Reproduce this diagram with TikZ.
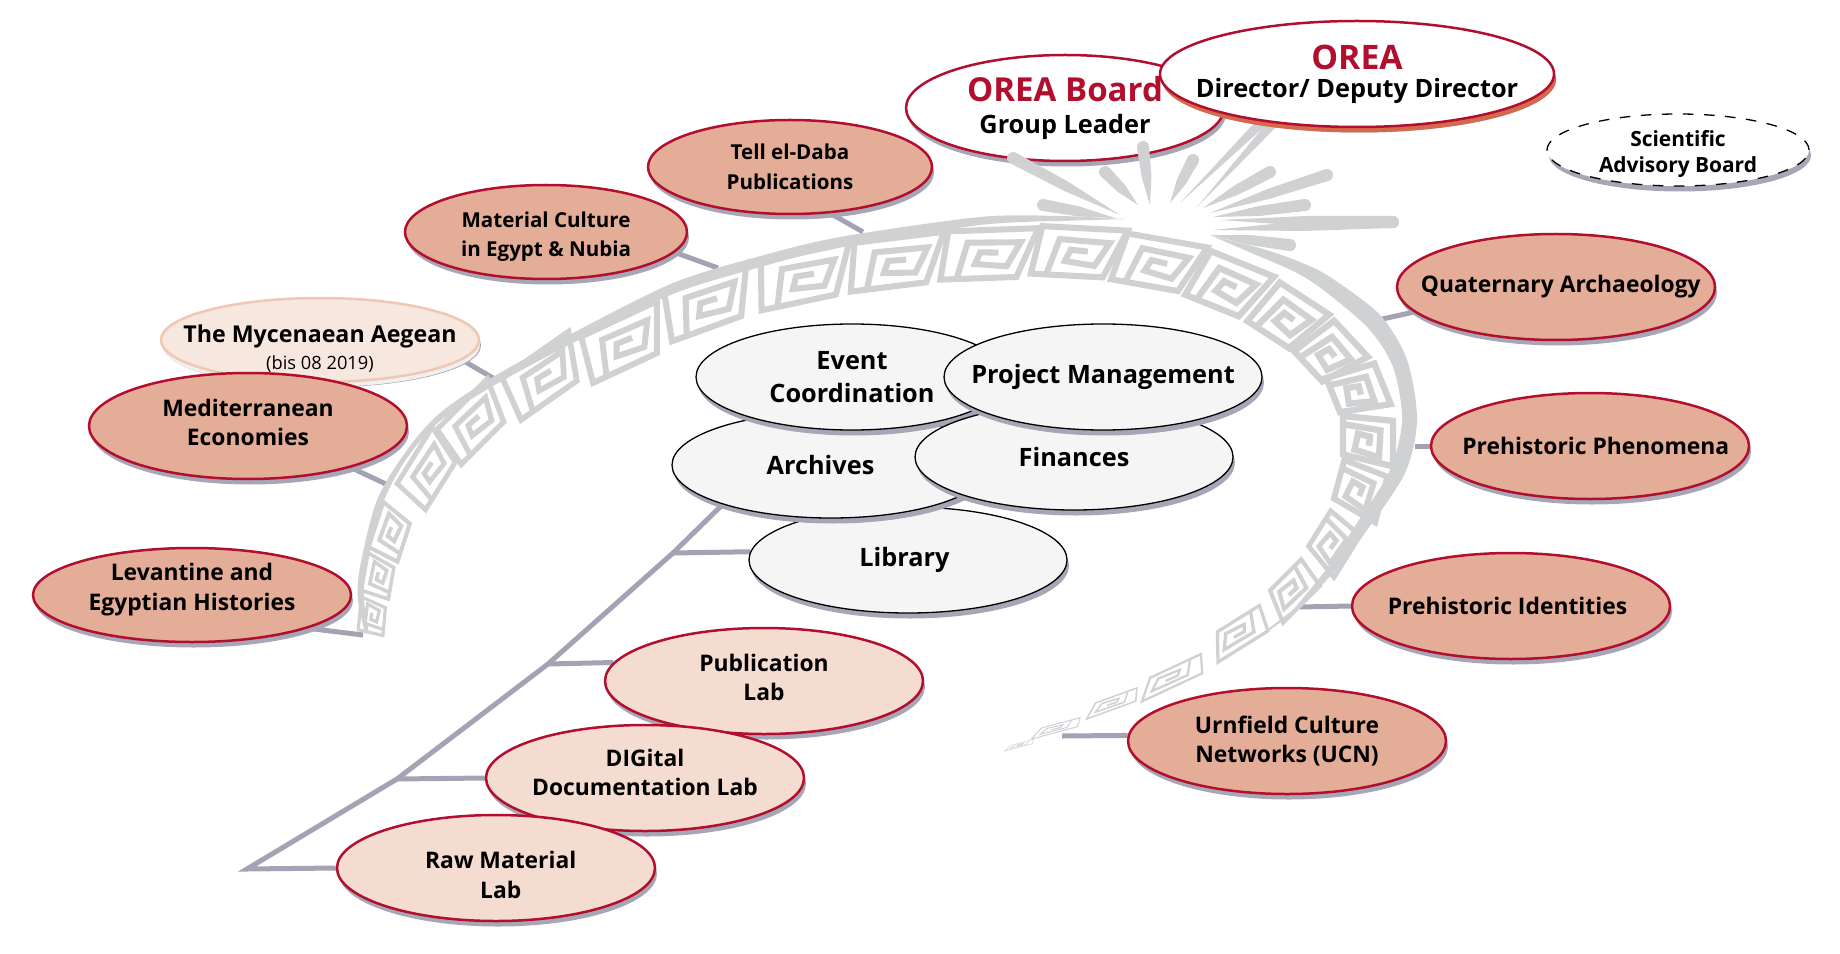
\documentclass[tikz,border=0pt]{standalone}
\usepackage{fontspec}
\setmainfont{Open Sans}
\usetikzlibrary{shapes.geometric,shadows,calc,backgrounds}

\definecolor{oreared}{HTML}{B20F2F}
\definecolor{terra}{HTML}{E3AD97}
\definecolor{pale}{HTML}{F5DCD0}
\definecolor{fadefill}{HTML}{F6E7DF}
\definecolor{fadeline}{HTML}{EFC8B4}
\definecolor{shade}{HTML}{A6A6B6}
\definecolor{redshade}{HTML}{D4694E}
\definecolor{keygray}{HTML}{D0D1D3}
\definecolor{linkgray}{HTML}{A3A3B3}
\definecolor{lightgray}{HTML}{F5F5F5}

\tikzset{
  oval/.style={ellipse,inner sep=-2cm,align=center,minimum width=3.18cm,minimum height=1.06cm,
    drop shadow={shadow xshift=0.02cm,shadow yshift=-0.055cm,fill=shade,opacity=1}},
  midtext/.style={font=\fontsize{6.5}{8.4}\selectfont\bfseries},
  smalltext/.style={font=\fontsize{5.85}{8.4}\selectfont\bfseries},
  bigtext/.style={font=\fontsize{7.2}{9.2}\selectfont\bfseries},
  groupnode/.style={oval,midtext,draw=oreared,line width=0.025cm,fill=terra},
  labnode/.style={oval,midtext,draw=oreared,line width=0.025cm,fill=pale},
  unitnode/.style={oval,bigtext,draw=black,line width=0.013cm,fill=lightgray},
  headnode/.style={oval,bigtext,draw=oreared,line width=0.025cm,fill=white},
  linkline/.style={linkgray,line width=0.05cm},
}
% deeper last line, to move the text up in its oval
\newcommand{\liftup}[1]{\rule[-#1]{0pt}{#1}}

\begin{document}
\begin{tikzpicture}[x=1cm,y=-1cm]
  \useasboundingbox (0,0) rectangle (18.4,9.53);

  % Research groups, left side
  \node[oval,midtext,draw=fadeline,line width=0.025cm,fill=fadefill,minimum height=0.84cm,
    drop shadow={shadow xshift=0.01cm,shadow yshift=-0.05cm,fill=black!6,opacity=1}]
    (mycenaean) at (3.20,3.40) {\rule{0pt}{10pt}\fontsize{6.6}{7.6}\selectfont The Mycenaean Aegean\\[-0.8pt]
    {\fontsize{5.2}{6}\selectfont\mdseries (bis 08 2019)}};
  \node[groupnode] (mediterranean) at (2.48,4.26) {Mediterranean\\Economies\liftup{2pt}};
  \node[groupnode,minimum height=0.94cm] (levantine) at (1.92,5.95) {Levantine and\\Egyptian Histories\liftup{4.8pt}};
  \node[groupnode,smalltext,minimum width=2.82cm,minimum height=0.94cm] (material) at (5.46,2.32) {\rule{0pt}{7pt}Material Culture\\in Egypt \& Nubia};
  \node[groupnode,smalltext,minimum width=2.84cm,minimum height=0.94cm] (tell) at (7.90,1.67) {Tell el-Daba\\Publications};

  % Research groups, right side
  \node[groupnode] (quaternary) at (15.56,2.87) {\hspace*{2.7pt}Quaternary Archaeology};
  \node[groupnode] (phenomena) at (15.90,4.46) {\hspace*{3.3pt}Prehistoric Phenomena};
  \node[groupnode] (identities) at (15.11,6.06) {Prehistoric Identities\hspace*{2pt}};
  \node[groupnode] (urnfield) at (12.87,7.41) {Urnfield Culture\\Networks (UCN)};

  % Central units
  \node[unitnode] (library) at (9.08,5.60) {Library\hspace*{2pt}};
  \node[unitnode] (archives) at (8.31,4.65) {Archives\hspace*{6pt}};
  \node[unitnode,minimum width=3.12cm] (event) at (8.52,3.77) {Event\\Coordination};
  \node[unitnode] (finances) at (10.74,4.57) {Finances};
  \node[unitnode] (project) at (11.03,3.77) {Project Management};

  % Labs
  \node[labnode] (publication) at (7.64,6.81) {Publication\\Lab\liftup{2pt}};
  \node[labnode] (digital) at (6.45,7.78) {DIGital\\Documentation Lab\liftup{3.3pt}};
  \node[labnode] (rawmat) at (4.96,8.68) {\rule{0pt}{8.8pt}\hspace*{2.7pt}Raw Material\\\hspace*{2.7pt}Lab};

  \node[headnode] (board) at (10.65,1.08) {{\fontsize{9.4}{10.5}\selectfont\color{oreared}OREA Board}\\Group Leader};

  % Burst above the band
  \foreach \tx/\ty/\bx/\by in {10.13/1.58/11.20/2.15, 10.43/2.05/11.15/2.18, 11.05/1.72/11.38/2.05,
      11.43/1.47/11.50/2.05, 11.93/1.60/11.70/2.03, 12.70/1.72/12.03/2.08, 13.27/1.75/12.10/2.13,
      13.05/2.05/12.13/2.17, 13.93/2.22/12.13/2.30, 13.93/2.22/12.20/2.20, 12.90/2.45/12.10/2.35}{
    \coordinate (spiketip) at (\tx,\ty);
    \coordinate (spikebase) at (\bx,\by);
    \fill[keygray] (spikebase) -- ($(spikebase)!0.5!(spiketip)!0.05cm!90:(spiketip)$)
      -- ($(spiketip)!0.06cm!-90:(spikebase)$) -- ($(spiketip)!0.06cm!90:(spikebase)$)
      -- ($(spikebase)!0.5!(spiketip)!0.05cm!-90:(spiketip)$) -- cycle;
    \fill[keygray] (spiketip) circle (0.06cm);
  }
  \foreach \tx/\ty/\bx/\by in {12.62/1.22/11.80/2.03, 12.74/1.22/11.97/2.07}{
    \coordinate (spiketip) at (\tx,\ty);
    \coordinate (spikebase) at (\bx,\by);
    \fill[keygray] (spikebase) -- ($(spiketip)!0.05cm!90:(spikebase)$) -- ($(spiketip)!0.05cm!-90:(spikebase)$) -- cycle;
  }

  \node[headnode,minimum width=3.94cm,
    drop shadow={shadow xshift=0.02cm,shadow yshift=-0.055cm,fill=redshade,opacity=1}]
    (orea) at (13.57,0.74) {{\fontsize{9.6}{11.5}\selectfont\color{oreared}OREA}\\[-1.2pt]Director/ Deputy Director};
  \node[oval,midtext,draw=black,dashed,line width=0.013cm,fill=white,minimum width=2.62cm,minimum height=0.72cm,
    font=\fontsize{5.95}{7.6}\selectfont\bfseries] (advisory) at (16.78,1.50) {\rule{0pt}{6.9pt}Scientific\\Advisory Board};

  % Free ends of the connectors
  \coordinate (tellend) at (8.63,2.32);
  \coordinate (materialend) at (7.18,2.68);
  \coordinate (mycenaeanend) at (4.93,3.78);
  \coordinate (mediterraneanend) at (3.88,4.85);
  \coordinate (levantineend) at (3.63,6.35);
  \coordinate (quaternaryend) at (13.78,3.20);
  \coordinate (phenomenaend) at (14.15,4.46);
  \coordinate (identitiesend) at (13.00,6.07);
  \coordinate (urnfieldend) at (10.62,7.36);
  \coordinate (libraryjoin) at (6.73,5.53);
  \coordinate (publicationjoin) at (5.48,6.64);
  \coordinate (digitaljoin) at (3.97,7.79);
  \coordinate (rawjoin) at (2.47,8.69);

  \begin{scope}[on background layer]
    % Connectors
    \draw[linkline] (tell.-49) -- (tellend);
    \draw[linkline] (material.-9) -- (materialend);
    \draw[linkline] (mycenaean.-8) -- (mycenaeanend);
    \draw[linkline] (mediterranean.-22) -- (mediterraneanend);
    \draw[linkline] (levantine.-16) -- (levantineend);
    \draw[linkline] (quaternary.190) -- (quaternaryend);
    \draw[linkline] (phenomena.180) -- (phenomenaend);
    \draw[linkline] (identities.180) -- (identitiesend);
    \draw[linkline] (urnfield.178) -- (urnfieldend);
    \draw[linkline] (archives.200) -- (libraryjoin) -- (publicationjoin) -- (digitaljoin) -- (rawjoin) -- (rawmat.180);
    \draw[linkline] (libraryjoin) -- (library.177.5);
    \draw[linkline] (publicationjoin) -- (publication.173.6);
    \draw[linkline] (digitaljoin) -- (digital.180);

    % Rim of the band
    \fill[keygray] plot[smooth] coordinates {(3.65,6.33) (3.58,6.00) (3.60,5.67) (3.77,5.00) (4.07,4.50) (4.40,4.13)
        (4.93,3.77) (5.73,3.33) (6.73,2.83) (7.57,2.57) (8.40,2.37) (9.80,2.17) (10.60,2.16) (11.25,2.19)}
      -- plot[smooth] coordinates {(10.60,2.21) (9.80,2.25) (8.40,2.47) (7.57,2.68) (6.73,2.94) (5.73,3.43)
        (4.93,3.86) (4.40,4.21) (4.07,4.58) (3.83,5.03) (3.66,5.68) (3.64,6.00) (3.69,6.33)} -- cycle;
    \fill[keygray] plot[smooth] coordinates {(12.12,2.36) (12.63,2.49) (13.00,2.62) (13.30,2.77) (13.80,3.15) (14.07,3.60) (14.17,4.20)
        (14.05,4.73) (13.67,5.30) (13.33,5.73) (12.93,6.13) (12.40,6.50)}
      -- plot[smooth] coordinates {(12.93,6.10) (13.28,5.67) (13.57,5.23) (13.90,4.70) (14.02,4.20) (13.93,3.67) (13.68,3.28)
        (13.22,2.89) (12.95,2.72) (12.63,2.58)} -- cycle;

    % Key pattern of the band
    \foreach \px/\py/\ang/\len/\hgt in {3.72/6.17/85/35/25, 3.78/5.77/80/40/28, 3.90/5.33/72/50/32, 4.28/4.70/58/70/38,
        4.73/4.23/45/75/42, 5.43/3.77/35/85/45, 6.23/3.43/25/88/47, 7.07/3.03/20/92/48, 8.03/2.77/12/95/48,
        8.95/2.62/7/95/48, 9.87/2.54/2/95/48, 10.77/2.52/-3/90/48, 11.57/2.63/-10/85/48, 12.28/2.85/-22/72/50,
        12.87/3.17/-33/62/50, 13.30/3.53/-47/52/50, 13.58/3.90/-68/46/50, 13.68/4.40/-90/48/50, 13.60/4.90/-105/50/46,
        13.33/5.43/-122/52/38, 12.93/5.90/-135/55/32, 12.40/6.33/-148/62/26, 11.73/6.77/-155/70/18,
        11.13/7.03/-160/55/12, 10.57/7.28/-165/50/8, 10.20/7.45/-165/30/4}{
      \begin{scope}[shift={(\px,\py)},x=\len*0.01cm,y=\hgt*0.01cm,rotate=\ang]
        \draw[keygray,line width=\hgt*0.036pt] (-0.36,-0.5) -- (0.3,-0.5) -- (0.55,0.5) -- (-0.4,0.5) -- (-0.5,-0.5)
          -- cycle;
        \draw[keygray,line width=\hgt*0.036pt] (-0.33,-0.5) -- (-0.2,0.25) -- (0.36,0.22) -- (0.2,-0.27)
          -- (-0.13,-0.2) -- (-0.07,0.04) -- (0.12,0.02);
      \end{scope}
    }
  \end{scope}
\end{tikzpicture}
\end{document}
